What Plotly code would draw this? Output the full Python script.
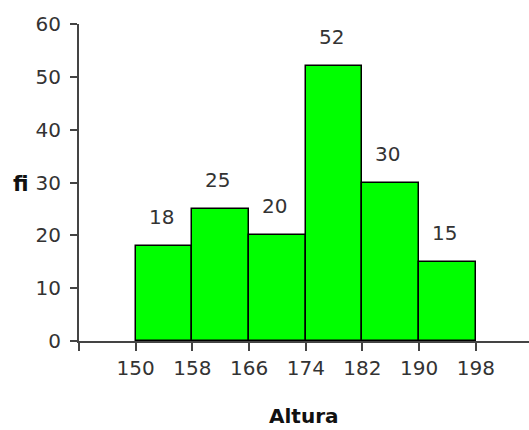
import plotly.graph_objects as go

bin_edges = [150, 158, 166, 174, 182, 190, 198]
freqs = [18, 25, 20, 52, 30, 15]
y_ticks = [0, 10, 20, 30, 40, 50, 60]
x_title = "Altura"
y_title = "fi"

centers = [(bin_edges[i] + bin_edges[i + 1]) / 2 for i in range(len(freqs))]
widths = [bin_edges[i + 1] - bin_edges[i] for i in range(len(freqs))]

FONT = "DejaVu Sans"
TXT = "#333333"
PLOT_H = 317
PLOT_W = 450

fig = go.Figure()
fig.add_trace(go.Bar(
    x=centers, y=freqs, width=widths,
    marker=dict(color="#00FF00", line=dict(color="#000000", width=1.5)),
    hoverinfo="skip",
))

for c, f in zip(centers, freqs):
    fig.add_annotation(x=c, y=f, text=str(f), showarrow=False,
                       xanchor="center", yanchor="middle", xshift=-3, yshift=29,
                       font=dict(family=FONT, size=20, color=TXT))

fig.add_annotation(xref="paper", yref="paper", x=0.5, y=-75 / PLOT_H, text="<b>" + x_title + "</b>",
                   showarrow=False, xanchor="center", yanchor="middle",
                   font=dict(family=FONT, size=20, color="#111111"))
fig.add_annotation(xref="paper", yref="paper", x=-68 / PLOT_W, y=157 / PLOT_H,
                   text="<b>" + y_title + "</b>", showarrow=False, xanchor="left", yanchor="middle",
                   font=dict(family=FONT, size=21, color="#111111"))

fig.update_layout(
    width=529, height=430,
    margin=dict(l=79, r=0, t=24, b=89, autoexpand=False),
    paper_bgcolor="white", plot_bgcolor="white",
    showlegend=False, bargap=0,
    font=dict(family=FONT, size=20, color=TXT),
)
fig.update_xaxes(
    range=[142, 205.5], tickmode="array",
    tickvals=[142] + bin_edges, ticktext=[""] + [str(v) for v in bin_edges],
    ticks="outside", ticklen=8, tickwidth=2, tickcolor="#444444",
    showline=True, linecolor="#444444", linewidth=2,
    showgrid=False, zeroline=False, fixedrange=True, automargin=False,
    tickfont=dict(family=FONT, size=20, color=TXT),
)
fig.update_yaxes(
    range=[0, 60], tickmode="array", tickvals=y_ticks,
    ticks="outside", ticklen=7, tickwidth=2, tickcolor="#444444",
    showline=True, linecolor="#444444", linewidth=2,
    showgrid=False, zeroline=False, fixedrange=True, automargin=False,
    ticklabelstandoff=5,
    tickfont=dict(family=FONT, size=20, color=TXT),
)

fig.write_html(
    "out.html",
    config={"displayModeBar": False},
    post_script="document.body.style.margin='0';document.body.style.overflow='hidden';",
)
